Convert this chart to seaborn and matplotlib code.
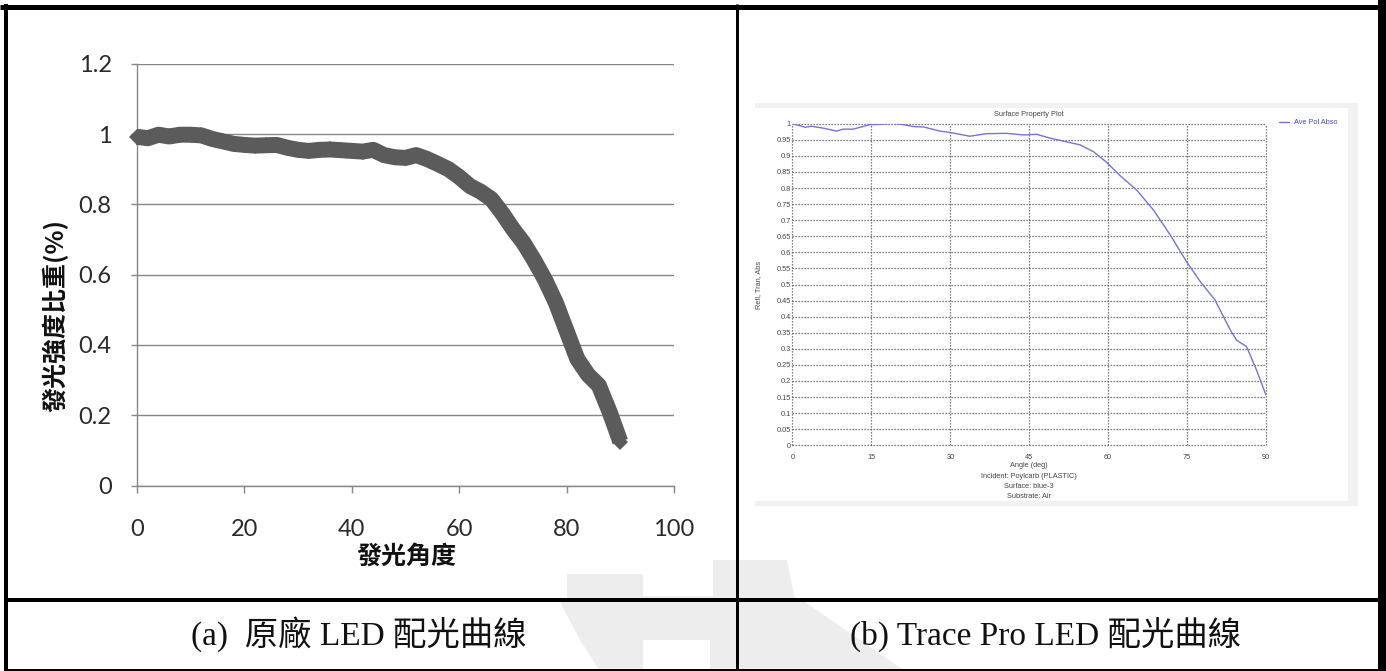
import numpy as np
import pandas as pd
import matplotlib
matplotlib.use("Agg")
import matplotlib.pyplot as plt
import seaborn as sns
from matplotlib.lines import Line2D
from matplotlib.patches import Rectangle, Polygon

# ---------------- data ----------------
led_angle = [0, 2, 4, 6, 8, 10, 12, 14, 16, 18, 20, 22, 24, 26, 28, 30, 32, 34, 36, 38,
             40, 42, 44, 46, 48, 50, 52, 54, 56, 58, 60, 62, 64, 66, 68, 70, 72, 74, 76, 78,
             80, 82, 84, 86, 88, 90]
led_ratio = [0.992, 0.988, 0.998, 0.993, 0.998, 0.998, 0.996, 0.986, 0.979, 0.972,
             0.969, 0.967, 0.968, 0.969, 0.961, 0.955, 0.952, 0.955, 0.956, 0.954,
             0.952, 0.950, 0.955, 0.940, 0.934, 0.932, 0.940, 0.929, 0.915, 0.900,
             0.878, 0.852, 0.836, 0.815, 0.775, 0.730, 0.690, 0.640, 0.585, 0.520,
             0.440, 0.360, 0.315, 0.285, 0.210, 0.125]
led_xticks = [0, 20, 40, 60, 80, 100]
led_yticks = [0, 0.2, 0.4, 0.6, 0.8, 1.0, 1.2]
led_ytick_labels = ["0", "0.2", "0.4", "0.6", "0.8", "1", "1.2"]

tp_angle = [0, 2.4, 3.6, 5.9, 8.4, 9.6, 11.5, 14.7, 16.6, 19.2, 21.1, 23.0, 24.9, 28.0,
            29.9, 33.7, 36.9, 40.7, 43.9, 46.4, 49.0, 52.8, 54.7, 57.2, 59.7, 62.3,
            65.4, 68.6, 71.8, 74.9, 77.5, 80.3, 83.2, 84.4, 86.3, 88.2, 90.0]
tp_abs = [1.000, 0.989, 0.992, 0.986, 0.977, 0.983, 0.983, 0.997, 0.998, 1.001, 0.997,
          0.991, 0.990, 0.977, 0.973, 0.961, 0.969, 0.970, 0.965, 0.967, 0.955, 0.941,
          0.934, 0.913, 0.880, 0.838, 0.794, 0.732, 0.654, 0.571, 0.509, 0.452, 0.359,
          0.327, 0.307, 0.234, 0.156]
tp_xticks = [0, 15, 30, 45, 60, 75, 90]
tp_yticks = [round(0.05 * i, 2) for i in range(21)]
tp_series = "Ave Pol Abso"

caption_a = "(a)  原廠 LED 配光曲線"
caption_b = "(b) Trace Pro LED 配光曲線"

# ---------------- figure ----------------
sns.set_theme(style="white")
plt.rcParams['font.family'] = ['Lato', 'Noto Sans CJK TC', 'DejaVu Sans']

W, H = 1386, 671
fig = plt.figure(figsize=(W / 100, H / 100), dpi=100)
fig.patch.set_facecolor("white")


def fx(px):
    return px / W


def fy(py):
    return 1 - py / H


CJK = ['Noto Sans CJK TC', 'DejaVu Sans']

# faint background watermark shapes
wm = "#ededed"
for pts in [
    [(567, 574), (643, 574), (643, 596), (713, 596), (713, 560), (787, 560),
     (795, 600), (567, 600)],
    [(560, 602), (805, 602), (905, 671), (710, 671), (710, 640), (643, 640),
     (643, 671), (600, 671), (580, 640)],
]:
    fig.add_artist(Polygon([(fx(x), fy(y)) for x, y in pts], closed=True,
                           transform=fig.transFigure, facecolor=wm, edgecolor="none",
                           zorder=0))

# ---------- left: Excel-style chart ----------
ax1 = fig.add_axes([fx(137), fy(485.6), 537 / W, 421.9 / H])
ax1.patch.set_alpha(0)
df1 = pd.DataFrame({"angle": led_angle, "ratio": led_ratio})
sns.lineplot(data=df1, x="angle", y="ratio", ax=ax1, color="#5b5b5b", lw=11.5,
             marker="D", markersize=8.5, markeredgewidth=0, clip_on=False,
             solid_capstyle="butt", solid_joinstyle="round", zorder=3)
ax1.set_xlim(0, 100)
ax1.set_ylim(0, 1.2)
ax1.set_xticks(led_xticks)
ax1.set_xticklabels([str(v) for v in led_xticks])
ax1.set_yticks(led_yticks)
ax1.set_yticklabels(led_ytick_labels)
ax1.set_xlabel("")
ax1.set_ylabel("")
for s in ["top", "right"]:
    ax1.spines[s].set_visible(False)
for s in ["left", "bottom"]:
    ax1.spines[s].set_color("#868686")
    ax1.spines[s].set_linewidth(1)
ax1.yaxis.grid(True, color="#868686", lw=1)
ax1.xaxis.grid(False)
ax1.set_axisbelow(True)
ax1.tick_params(axis="x", direction="out", length=5, width=1, color="#868686",
                labelsize=17, labelcolor="#2a2a2a", pad=19, bottom=True)
ax1.tick_params(axis="y", direction="out", length=4.3, width=1, color="#868686",
                labelsize=17, labelcolor="#2a2a2a", pad=14, left=True)
for lab in ax1.get_xticklabels() + ax1.get_yticklabels():
    lab.set_family(['Lato', 'DejaVu Sans'])

fig.text(fx(55), fy(315), "發光強度比重(%)", rotation=90, ha="center", va="center",
         fontsize=18, fontweight="bold", color="#111", family=CJK)
fig.text(fx(406), fy(557), "發光角度", ha="center", va="center",
         fontsize=18, fontweight="bold", color="#111", family=CJK)

# ---------- right: TracePro-style chart ----------
for (x0, y0, x1, y1) in [(755, 103, 1358, 108), (755, 501, 1358, 506), (1348, 103, 1358, 506)]:
    fig.add_artist(Rectangle((fx(x0), fy(y1)), (x1 - x0) / W, (y1 - y0) / H,
                             transform=fig.transFigure, facecolor="#f1f1f1",
                             edgecolor="none", zorder=0))

ax2 = fig.add_axes([fx(792.5), fy(445.3), 473.5 / W, 321.6 / H])
df2 = pd.DataFrame({"angle": tp_angle, "val": tp_abs})
sns.lineplot(data=df2, x="angle", y="val", ax=ax2, color="#7474d8", lw=1,
             label=tp_series, zorder=3)
ax2.set_xlim(0, 90)
ax2.set_ylim(0, 1)
ax2.set_xticks(tp_xticks)
ax2.set_xticklabels([str(v) for v in tp_xticks])
ax2.set_yticks(tp_yticks)
ax2.set_yticklabels([f"{v:g}" for v in tp_yticks])
ax2.set_xlabel("")
ax2.set_ylabel("")
for s in ax2.spines.values():
    s.set_visible(False)
ax2.grid(True, color="#555555", lw=0.9, linestyle=(0, (1, 1.4)))
for gl in ax2.get_xgridlines() + ax2.get_ygridlines():
    gl.set_clip_on(False)
ax2.tick_params(axis="both", length=0, labelsize=5.3, labelcolor="#444444")
ax2.tick_params(axis="y", pad=1.2)
ax2.tick_params(axis="x", pad=6)
for lab in ax2.get_xticklabels() + ax2.get_yticklabels():
    lab.set_family(['Liberation Sans', 'DejaVu Sans'])

leg = ax2.legend(loc="upper left", bbox_to_anchor=(fx(1279), fy(119)),
                 bbox_transform=fig.transFigure, frameon=False,
                 handlelength=1.3, handletextpad=0.8, borderpad=0, borderaxespad=0,
                 labelcolor="#4848c8", prop={'family': 'Liberation Sans', 'size': 5.3})

SANS = ['Liberation Sans', 'DejaVu Sans']
fig.text(fx(1029), fy(114), "Surface Property Plot", ha="center", va="center",
         fontsize=5.3, color="#444444", family=SANS)
for yy, t in [(465.7, "Angle (deg)"), (476, "Incident: Poylcarb (PLASTIC)"),
              (486.3, "Surface: blue-3"), (496.7, "Substrate: Air")]:
    fig.text(fx(1029), fy(yy), t, ha="center", va="center", fontsize=5.3,
             color="#444444", family=SANS)
fig.text(fx(759), fy(284.5), "Refl, Tran, Abs", rotation=90, ha="center", va="center",
         fontsize=5.3, color="#444444", family=SANS)

# ---------- captions ----------
SERIF = ['Liberation Serif', 'Noto Sans CJK TC', 'DejaVu Sans']
fig.text(fx(359), fy(634), caption_a, ha="center", va="center", fontsize=24,
         color="#111", family=SERIF)
fig.text(fx(1046), fy(634), caption_b, ha="center", va="center", fontsize=24,
         color="#111", family=SERIF)

# ---------- table borders ----------
def hline(y, x0, x1, wpx):
    fig.add_artist(Line2D([fx(x0), fx(x1)], [fy(y), fy(y)], transform=fig.transFigure,
                          color="black", lw=wpx * 0.72, solid_capstyle="butt", zorder=10))


def vline(x, y0, y1, wpx):
    fig.add_artist(Line2D([fx(x), fx(x)], [fy(y0), fy(y1)], transform=fig.transFigure,
                          color="black", lw=wpx * 0.72, solid_capstyle="butt", zorder=10))


hline(6.5, 0, W, 5)
hline(600, 4, W, 4)
hline(669.5, 4, W, 3)
vline(6, 4, H, 4)
vline(737, 4, H, 3)
fig.add_artist(Rectangle((fx(1378), 0), 8 / W, 1, transform=fig.transFigure,
                         facecolor="black", edgecolor="none", zorder=10))

fig.savefig("out.png", dpi=100, facecolor="white")
